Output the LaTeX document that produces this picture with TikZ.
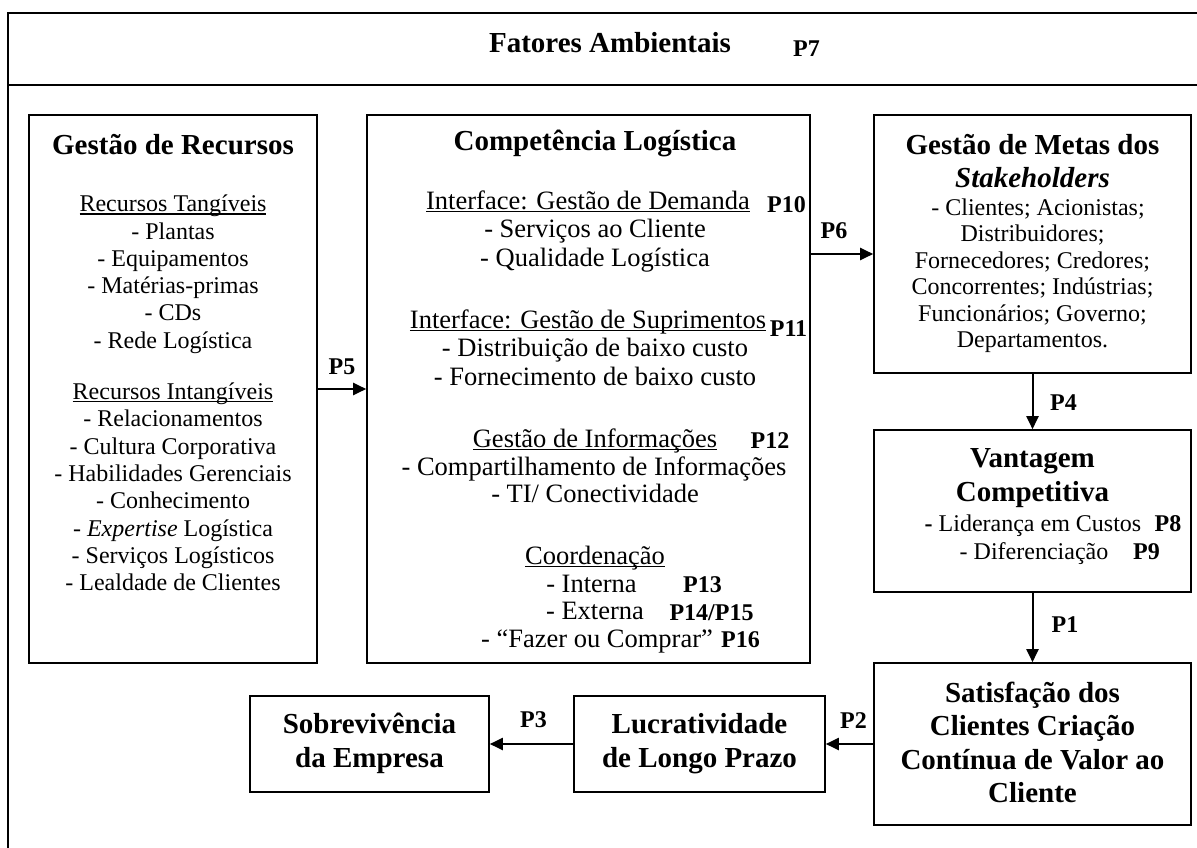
\documentclass[tikz,border=0pt]{standalone}
\usepackage{fontspec}
\setmainfont{Liberation Serif}
\usetikzlibrary{arrows.meta}
\newcommand{\myul}[1]{\setbox0\hbox{#1}\rlap{\rule[-3pt]{\wd0}{1.3pt}}\box0}
\begin{document}
\begin{tikzpicture}[x=1pt,y=-1pt,
  box/.style={draw, line width=1.6pt, inner sep=0pt},
  ttl/.style={font=\fontsize{29}{33}\selectfont\bfseries, anchor=base, inner sep=0pt},
  body/.style={font=\fontsize{24}{27}\selectfont, anchor=base, inner sep=0pt},
  bodyc/.style={font=\fontsize{26.5}{30}\selectfont, anchor=base, inner sep=0pt},
  plab/.style={font=\fontsize{24}{27}\selectfont\bfseries, anchor=base, inner sep=0pt},
  arr/.style={line width=2pt, -{Triangle[length=13pt,width=12pt]}},
  frame/.style={line width=2pt}]
\useasboundingbox (0,0) rectangle (1197,848);
% outer frame
\draw[frame] (1197,13) -- (8,13) -- (8,848);
\draw[frame] (8,85) -- (1197,85);
\node[ttl] (fat) at (610,53) {Fatores Ambientais};
\node[plab] (p7) at (806.5,57) {P7};
% boxes
\node[box, minimum width=288pt, minimum height=548pt] (rec) at (173,389) {};
\node[box, minimum width=443pt, minimum height=548pt] (comp) at (588.5,389) {};
\node[box, minimum width=317pt, minimum height=258pt] (metas) at (1032.5,244) {};
\node[box, minimum width=317pt, minimum height=162pt] (vant) at (1032.5,511) {};
\node[box, minimum width=317pt, minimum height=162pt] (sat) at (1032.5,744) {};
\node[box, minimum width=251pt, minimum height=96pt] (lucr) at (699.5,744) {};
\node[box, minimum width=239pt, minimum height=96pt] (sobr) at (369.5,744) {};
% Gestao de Recursos
\node[ttl] (rt) at (173,154) {Gestão de Recursos};
\node[body] (r1) at (173,211.5) {\myul{Recursos Tangíveis}};
\node[body] (r2) at (173,239) {- Plantas};
\node[body] (r3) at (173,266) {- Equipamentos};
\node[body] (r4) at (173,293) {- Matérias-primas};
\node[body] (r5) at (173,320.5) {- CDs};
\node[body] (r6) at (173,348) {- Rede Logística};
\node[body] (r7) at (173,399) {\myul{Recursos Intangíveis}};
\node[body] (r8) at (173,426.5) {- Relacionamentos};
\node[body] (r9) at (173,454) {- Cultura Corporativa};
\node[body] (r10) at (173,481) {- Habilidades Gerenciais};
\node[body] (r11) at (173,508.5) {- Conhecimento};
\node[body] (r12) at (173,536) {- \textit{Expertise} Logística};
\node[body] (r13) at (173,563) {- Serviços Logísticos};
\node[body] (r14) at (173,590.5) {- Lealdade de Clientes};
% Competencia Logistica
\node[ttl] (ct) at (595,150) {Competência Logística};
\node[bodyc] (c1) at (588,209) {\myul{Interface: Gestão de Demanda}};
\node[bodyc] (c2) at (595,237) {- Serviços ao Cliente};
\node[bodyc] (c3) at (595,266) {- Qualidade Logística};
\node[bodyc] (c4) at (588,328) {\myul{Interface: Gestão de Suprimentos}};
\node[bodyc] (c5) at (595,356) {- Distribuição de baixo custo};
\node[bodyc] (c6) at (595,385) {- Fornecimento de baixo custo};
\node[bodyc] (c7) at (595,447) {\myul{Gestão de Informações}};
\node[bodyc] (c8) at (594,475) {- Compartilhamento de Informações};
\node[bodyc] (c9) at (595,502) {- TI/ Conectividade};
\node[bodyc] (c10) at (595,564) {\myul{Coordenação}};
\node[bodyc] (c11) at (591.5,592) {- Interna};
\node[bodyc] (c12) at (595,619) {- Externa};
\node[bodyc] (c13) at (597,647) {- “Fazer ou Comprar”};
\node[plab] (p10) at (786.5,212) {P10};
\node[plab] (p11) at (788.5,336) {P11};
\node[plab] (p12) at (770,448) {P12};
\node[plab] (p13) at (702.5,592) {P13};
\node[plab] (p1415) at (711.5,620) {P14/P15};
\node[plab] (p16) at (740.5,647) {P16};
% Metas
\node[ttl] (mt1) at (1032.5,154) {Gestão de Metas dos};
\node[ttl] (mt2) at (1032.5,187) {\textit{Stakeholders}};
\node[body] (m1) at (1038,215) {- Clientes; Acionistas;};
\node[body] (m2) at (1032.5,241.5) {Distribuidores;};
\node[body] (m3) at (1032.5,268) {Fornecedores; Credores;};
\node[body] (m4) at (1032.5,294.5) {Concorrentes; Indústrias;};
\node[body] (m5) at (1032.5,321) {Funcionários; Governo;};
\node[body] (m6) at (1032.5,347.5) {Departamentos.};
% Vantagem
\node[ttl] (vt1) at (1032.5,467) {Vantagem};
\node[ttl] (vt2) at (1032.5,501) {Competitiva};
\node[body] (v1) at (1033,531) {\textbf{-} Liderança em Custos};
\node[body] (v2) at (1034,559) {- Diferenciação};
\node[plab] (p8) at (1168,531) {P8};
\node[plab] (p9) at (1146.5,559) {P9};
% Satisfacao
\node[ttl] (s1) at (1032.5,702) {Satisfação dos};
\node[ttl] (s2) at (1032.5,735.5) {Clientes Criação};
\node[ttl] (s3) at (1032.5,769) {Contínua de Valor ao};
\node[ttl] (s4) at (1032.5,802.5) {Cliente};
% Lucratividade
\node[ttl] (l1) at (699.5,733) {Lucratividade};
\node[ttl] (l2) at (699.5,767) {de Longo Prazo};
% Sobrevivencia
\node[ttl] (o1) at (369.5,733) {Sobrevivência};
\node[ttl] (o2) at (369.5,767) {da Empresa};
% arrows
\draw[arr] (rec.east) -- (comp.west);
\node[plab] (p5) at (342,374) {P5};
\coordinate (p6e) at ([yshift=-10pt]metas.west);
\draw[arr] (comp.east |- p6e) -- (p6e);
\node[plab] (p6) at (834,238) {P6};
\draw[arr] (metas.south) -- (vant.north);
\node[plab] (p4) at (1063.5,410) {P4};
\draw[arr] (vant.south) -- (sat.north);
\node[plab] (p1) at (1065,632) {P1};
\draw[arr] (sat.west) -- (lucr.east);
\node[plab] (p2) at (853.5,728) {P2};
\draw[arr] (lucr.west) -- (sobr.east);
\node[plab] (p3) at (533.5,727) {P3};
\end{tikzpicture}
\end{document}
